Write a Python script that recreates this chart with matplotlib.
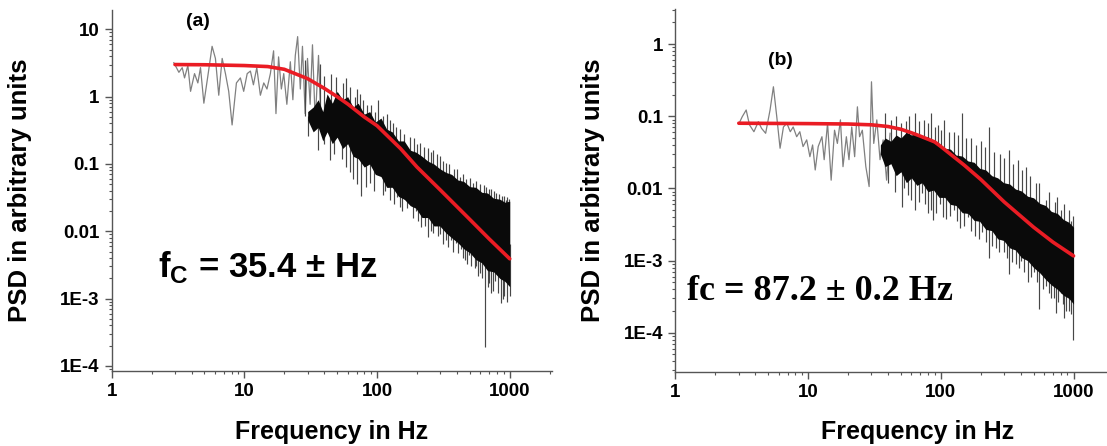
import matplotlib
matplotlib.use("Agg")
import matplotlib.pyplot as plt
import numpy as np
from matplotlib.ticker import FixedLocator, FixedFormatter, NullFormatter, LogLocator

# ---------------- panel (a) data ----------------
# sparse low-frequency part of the spectrum (Hz, PSD)
low_f_a = [2.94, 3.21, 3.40, 3.54, 3.75, 3.93, 4.21, 4.46, 4.67, 4.95, 5.30, 5.71,
           6.05, 6.41, 6.80, 7.20, 7.62, 8.08, 8.71, 9.33, 9.88, 10.5, 11.1, 11.7,
           12.4, 13.2, 14.0, 14.8, 15.7, 16.6, 17.3, 18.1, 19.0, 19.8, 20.9, 22.2,
           23.2, 24.2, 25.2, 26.4, 27.4, 28.7, 29.9, 31.3, 32.6, 34.2, 36.2, 37.7]
low_p_a = [3.2, 2.3, 2.7, 1.9, 2.9, 1.2, 2.2, 1.6, 2.7, 0.8, 2.0, 5.6,
           3.7, 1.05, 3.7, 2.2, 1.2, 0.38, 1.6, 1.9, 1.2, 2.2, 2.4, 1.5,
           2.7, 1.05, 1.6, 1.3, 2.2, 4.8, 0.56, 3.9, 1.3, 2.2, 0.77, 3.3,
           0.9, 4.1, 7.8, 1.3, 5.6, 0.56, 3.7, 0.77, 5.9, 0.42, 4.1, 0.45]
# dense high-frequency part: ragged edges of the solid black band
band_f_a = [30, 33, 36, 39, 42, 46, 50, 55, 60, 66, 72, 80, 88, 97, 107, 118, 130,
            145, 160, 178, 196, 218, 242, 268, 297, 330, 365, 405, 450, 500, 555,
            615, 680, 755, 840, 920, 1000]
band_lo_a = [0.45, 0.3, 0.35, 0.22, 0.3, 0.2, 0.25, 0.17, 0.2, 0.13, 0.12, 0.09,
             0.1, 0.07, 0.065, 0.045, 0.045, 0.033, 0.03, 0.024, 0.022, 0.016,
             0.016, 0.012, 0.012, 0.0095, 0.008, 0.0068, 0.0055, 0.0048, 0.0038,
             0.0034, 0.0026, 0.0025, 0.002, 0.0018, 0.0015]
band_hi_a = [0.6, 0.7, 0.9, 0.6, 1.1, 0.8, 1.2, 0.9, 1.0, 0.7, 0.8, 0.55, 0.6,
             0.42, 0.48, 0.33, 0.3, 0.22, 0.22, 0.16, 0.15, 0.13, 0.11, 0.1, 0.085,
             0.075, 0.07, 0.058, 0.055, 0.046, 0.045, 0.038, 0.037, 0.031, 0.03,
             0.027, 0.028]
# single spikes sticking out of the band (Hz, tip value)
spk_f_a = [30.2, 36.0, 40, 44.0, 47, 54, 58, 62, 66, 71, 76.3, 82, 88.1, 95, 105,
           110, 115, 120, 125, 135, 142, 148, 155, 160, 168, 176, 185, 195, 205,
           216, 228, 242, 255, 265, 280, 290, 300, 315, 333, 345, 360, 375, 396,
           410, 430, 445, 457, 475, 490, 510, 528, 545, 560, 575, 593, 620, 647,
           680, 700, 726, 750, 780, 820, 864, 890, 910, 943, 960, 1000,
           28.6, 37, 40, 45, 49.4, 55, 58, 62.3, 68, 70, 74, 78.5, 84, 90, 96, 102,
           110, 118, 125, 132, 140, 150, 160, 176, 190, 200, 210, 225, 240, 255,
           264, 285, 300, 315, 333, 350, 380, 400, 420, 445, 470, 500, 528, 560,
           600, 640, 667, 700, 720, 760, 792, 830, 870, 900, 943, 960, 990]
spk_p_a = [0.26, 0.16, 0.2, 0.115, 0.14, 0.12, 0.09, 0.075, 0.06, 0.05, 0.033, 0.045,
           0.052, 0.04, 0.081, 0.035, 0.04, 0.045, 0.029, 0.025, 0.032, 0.023, 0.02,
           0.03, 0.022, 0.037, 0.016, 0.02, 0.014, 0.0117, 0.012, 0.0083, 0.01,
           0.0095, 0.0147, 0.0085, 0.009, 0.0065, 0.0074, 0.0058, 0.0075, 0.005,
           0.0066, 0.0048, 0.0055, 0.004, 0.00375, 0.0033, 0.0045, 0.003, 0.0047,
           0.0028, 0.003, 0.0022, 0.0024, 0.002, 0.00019, 0.0015, 0.0017, 0.0012,
           0.0013, 0.0018, 0.0012, 0.00085, 0.001, 0.0011, 0.0019, 0.0009, 0.0011,
           3.5, 3.1, 2.0, 2.2, 1.98, 1.6, 1.9, 1.41, 1.0, 1.3, 1.1, 0.89, 0.75, 0.75,
           0.6, 0.89, 0.52, 0.55, 0.45, 0.40, 0.36, 0.33, 0.28, 0.254, 0.24, 0.2,
           0.203, 0.18, 0.17, 0.15, 0.161, 0.14, 0.13, 0.11, 0.102, 0.1, 0.085,
           0.085, 0.065, 0.07, 0.06, 0.062, 0.052, 0.055, 0.05, 0.048, 0.046, 0.042,
           0.043, 0.04, 0.037, 0.036, 0.033, 0.034, 0.029, 0.032, 0.03]
# fitted curve
fit_f_a = [3, 5, 10, 15, 20, 30, 40, 50, 60, 80, 100, 150, 200, 300, 500, 700, 1000]
fit_p_a = [3.0, 2.98, 2.9, 2.8, 2.55, 1.85, 1.33, 1.0, 0.78, 0.5, 0.37, 0.17, 0.09,
           0.041, 0.015, 0.0077, 0.0039]

# ---------------- panel (b) data ----------------
low_f_b = [3.0, 3.18, 3.41, 3.61, 3.90, 4.21, 4.45, 4.78, 5.16, 5.47, 5.80, 6.14,
           6.51, 6.91, 7.33, 7.71, 8.19, 8.65, 9.15, 9.75, 10.3, 10.8, 11.3, 11.9,
           12.7, 13.2, 14.0, 14.9, 15.8, 16.6, 17.5, 18.3, 19.4, 20.3, 21.3, 22.4,
           23.5, 24.4, 25.6, 27.2, 28.8, 30.0, 31.2, 32.9, 34.8, 36.7, 39.0, 41.4]
low_p_b = [0.078, 0.098, 0.122, 0.076, 0.061, 0.084, 0.068, 0.058, 0.122, 0.256,
           0.098, 0.036, 0.071, 0.080, 0.061, 0.071, 0.052, 0.061, 0.038, 0.047,
           0.0275, 0.040, 0.018, 0.038, 0.052, 0.025, 0.080, 0.013, 0.064, 0.042,
           0.089, 0.020, 0.052, 0.025, 0.071, 0.0275, 0.135, 0.052, 0.064, 0.020,
           0.0106, 0.30, 0.042, 0.089, 0.025, 0.047, 0.013, 0.058]
band_f_b = [35, 38, 42, 46, 50, 55, 60, 66, 72, 80, 88, 97, 107, 118, 130, 145,
            160, 178, 196, 218, 242, 268, 297, 330, 365, 405, 450, 500, 555, 615,
            680, 755, 840, 920, 1000]
band_lo_b = [0.03, 0.02, 0.022, 0.015, 0.017, 0.012, 0.014, 0.011, 0.012, 0.009,
             0.0095, 0.0075, 0.0075, 0.006, 0.0058, 0.0046, 0.0045, 0.0036, 0.0035,
             0.0027, 0.0026, 0.002, 0.0019, 0.0015, 0.0014, 0.0011, 0.001, 0.0008,
             0.00068, 0.00055, 0.00046, 0.0004, 0.00033, 0.0003, 0.00025]
band_hi_b = [0.04, 0.05, 0.045, 0.055, 0.05, 0.06, 0.055, 0.058, 0.05, 0.052,
             0.045, 0.042, 0.036, 0.035, 0.029, 0.028, 0.024, 0.023, 0.019, 0.018,
             0.015, 0.014, 0.012, 0.0115, 0.0098, 0.0092, 0.0078, 0.0074, 0.0062,
             0.0058, 0.0048, 0.0045, 0.0037, 0.0034, 0.0029]
spk_f_b = [40, 43.8, 45, 50.7, 53, 57, 60, 64, 68, 72, 76, 80, 84, 88, 92, 98, 104,
           110, 117, 125, 132, 140, 150, 160, 170, 180, 193, 205, 218, 231, 245,
           260, 275, 300, 315, 327, 345, 367, 385, 400, 425, 450, 475, 500, 530,
           553, 590, 620, 650, 680, 710, 740, 770, 800, 830, 850, 880, 920, 950, 990,
           37.8, 42, 46, 50, 55, 58, 64, 68, 75, 80, 85, 90, 95, 100, 105, 115, 125,
           135, 144, 155, 170, 185, 200, 215, 231, 250, 280, 300, 327, 350, 380,
           410, 437, 470, 520, 550, 617, 650, 720, 750, 800, 850, 890, 930, 960, 990]
spk_p_b = [0.012, 0.025, 0.009, 0.0056, 0.01, 0.008, 0.007, 0.005, 0.0065, 0.0085,
           0.006, 0.0045, 0.005, 0.0036, 0.0045, 0.006, 0.004, 0.0038, 0.0042,
           0.005, 0.0035, 0.0028, 0.003, 0.004, 0.0026, 0.0022, 0.002, 0.0025,
           0.0018, 0.0011, 0.0016, 0.0015, 0.0013, 0.0013, 0.0011, 0.00066,
           0.00095, 0.0009, 0.0008, 0.001, 0.0007, 0.0005, 0.0006, 0.0007, 0.0005,
           0.00021, 0.0004, 0.00045, 0.00035, 0.0003, 0.0003, 0.00019, 0.00027,
           0.00035, 0.00025, 0.00016, 0.0002, 0.0002, 0.00018, 0.00008,
           0.11, 0.09, 0.1, 0.08, 0.085, 0.1, 0.11, 0.085, 0.09, 0.08, 0.11, 0.07,
           0.075, 0.065, 0.089, 0.06, 0.06, 0.055, 0.11, 0.05, 0.05, 0.04, 0.045,
           0.038, 0.071, 0.032, 0.03, 0.026, 0.034, 0.022, 0.025, 0.018, 0.02,
           0.015, 0.012, 0.012, 0.0069, 0.009, 0.0065, 0.0075, 0.005, 0.006,
           0.003, 0.005, 0.0035, 0.0042]
fit_f_b = [3, 10, 20, 30, 40, 50, 60, 70, 80, 90, 100, 150, 200, 300, 500, 700, 1000]
fit_p_b = [0.08, 0.079, 0.078, 0.076, 0.072, 0.066, 0.059, 0.053, 0.048, 0.044, 0.038,
           0.021, 0.0133, 0.0065, 0.0029, 0.0018, 0.00116]

# axis ticks and texts
xticks = [1, 10, 100, 1000]
xtick_labels = ["1", "10", "100", "1000"]
yticks_a = [1e1, 1, 1e-1, 1e-2, 1e-3, 1e-4]
ylabels_a = ["10", "1", "0.1", "0.01", "1E-3", "1E-4"]
yticks_b = [1, 1e-1, 1e-2, 1e-3, 1e-4]
ylabels_b = ["1", "0.1", "0.01", "1E-3", "1E-4"]

plt.rcParams["font.family"] = ["Liberation Sans", "DejaVu Sans"]
plt.rcParams["font.weight"] = "bold"
plt.rcParams["axes.labelweight"] = "bold"
plt.rcParams["mathtext.fontset"] = "custom"
plt.rcParams["mathtext.rm"] = "Liberation Sans:bold"
plt.rcParams["mathtext.bf"] = "Liberation Sans:bold"

RED = "#ea1c24"
fig = plt.figure(figsize=(11.07, 4.46), dpi=100)
ax_a = fig.add_axes([0.1009, 0.1682, 0.3977, 0.8094])
ax_b = fig.add_axes([0.6102, 0.1670, 0.3977, 0.8128])


def draw_panel(ax, low_f, low_p, band_f, band_lo, band_hi, spk_f, spk_p, fit_f, fit_p):
    ax.set_xscale("log")
    ax.set_yscale("log")
    ax.plot(low_f, low_p, color="0.5", lw=0.9, zorder=2)
    # spikes go from the middle of the band to their tip
    mid = np.sqrt(np.array(band_lo) * np.array(band_hi))
    base = 10 ** np.interp(np.log10(spk_f), np.log10(band_f), np.log10(mid))
    ax.vlines(spk_f, base, spk_p, color="0.28", lw=0.85, zorder=2)
    ax.fill_between(band_f, band_lo, band_hi, color="#0a0a0a", lw=0, zorder=3)
    ax.plot(fit_f, fit_p, color=RED, lw=2.6, zorder=5, solid_capstyle="round")

    for side in ["top", "right"]:
        ax.spines[side].set_visible(False)
    for side in ["left", "bottom"]:
        ax.spines[side].set_color("#555555")
        ax.spines[side].set_linewidth(1.0)
    ax.xaxis.set_major_locator(FixedLocator(xticks))
    ax.xaxis.set_major_formatter(FixedFormatter(xtick_labels))
    ax.xaxis.set_minor_locator(LogLocator(base=10, subs=np.arange(2, 10)))
    ax.xaxis.set_minor_formatter(NullFormatter())
    ax.yaxis.set_minor_locator(LogLocator(base=10, subs=np.arange(2, 10), numticks=20))
    ax.yaxis.set_minor_formatter(NullFormatter())
    ax.tick_params(which="major", direction="out", length=5, width=1, color="#555555",
                   labelsize=13.5, pad=4)
    ax.tick_params(which="minor", direction="out", length=2.5, width=0.8, color="#555555")
    ax.set_xlim(1, 2080)
    ax.set_xlabel("Frequency in Hz", fontsize=18)
    ax.set_ylabel("PSD in arbitrary units", fontsize=18.5)


draw_panel(ax_a, low_f_a, low_p_a, band_f_a, band_lo_a, band_hi_a,
           spk_f_a, spk_p_a, fit_f_a, fit_p_a)
ax_a.yaxis.set_major_locator(FixedLocator(yticks_a))
ax_a.yaxis.set_major_formatter(FixedFormatter(ylabels_a))
ax_a.set_ylim(8.4e-5, 19.4)
ax_a.xaxis.set_label_coords(0.5, -0.135)
ax_a.yaxis.set_label_coords(-0.181, 0.5)
ax_a.text(4.47, 12.9, "(a)", fontsize=14, ha="center", va="center")
ax_a.text(2.23, 0.0021, r"f$_\mathrm{C}$ = 35.4 ± Hz", fontsize=25,
          ha="left", va="baseline")

draw_panel(ax_b, low_f_b, low_p_b, band_f_b, band_lo_b, band_hi_b,
           spk_f_b, spk_p_b, fit_f_b, fit_p_b)
ax_b.yaxis.set_major_locator(FixedLocator(yticks_b))
ax_b.yaxis.set_major_formatter(FixedFormatter(ylabels_b))
ax_b.set_ylim(2.9e-5, 3.06)
ax_b.xaxis.set_label_coords(0.55, -0.133)
ax_b.yaxis.set_label_coords(-0.16, 0.5)
ax_b.text(6.2, 0.6, "(b)", fontsize=14, ha="center", va="center")
ax_b.text(1.23, 2.85e-4, "fc = 87.2 ± 0.2 Hz", fontsize=26, ha="left",
          va="baseline", family=["Liberation Serif", "DejaVu Serif"])

fig.savefig("out.png", dpi=100)
